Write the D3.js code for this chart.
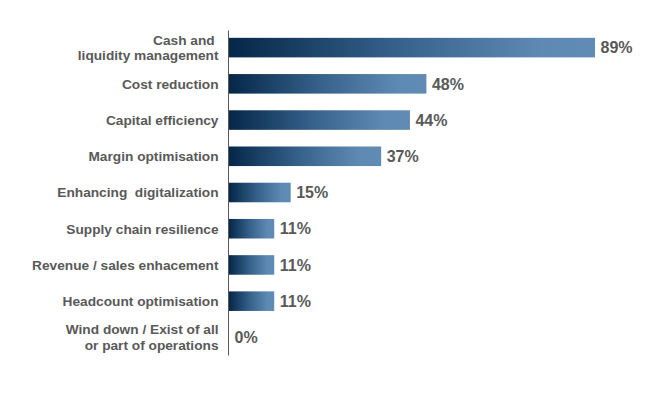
<!DOCTYPE html>
<html>
<head>
<meta charset="utf-8">
<script src="https://cdn.jsdelivr.net/npm/d3@7"></script>
<style>
html,body{margin:0;padding:0;background:#fff;}
svg{display:block;}
text{font-family:"Liberation Sans",Arial,sans-serif;font-weight:bold;fill:#595959;white-space:pre;}
</style>
</head>
<body>
<svg id="chart" width="661" height="398"></svg>
<script>
const categories = [
  ["Cash and ", "liquidity management"],
  ["Cost reduction"],
  ["Capital efficiency"],
  ["Margin optimisation"],
  ["Enhancing  digitalization"],
  ["Supply chain resilience"],
  ["Revenue / sales enhacement"],
  ["Headcount optimisation"],
  ["Wind down / Exist of all", "or part of operations"]
];
const values = [89, 48, 44, 37, 15, 11, 11, 11, 0];
const valueLabels = ["89%", "48%", "44%", "37%", "15%", "11%", "11%", "11%", "0%"];

const svg = d3.select("#chart");
const x0 = 229;
const x = d3.scaleLinear().domain([0, 89]).range([x0, 595]);
const y = d3.scaleBand().domain(d3.range(values.length)).range([29.5, 355.5]).paddingInner(0.46).paddingOuter(0.23);

const defs = svg.append("defs");
const grad = defs.append("linearGradient").attr("id", "barGrad")
  .attr("x1", "0%").attr("x2", "100%").attr("y1", "0%").attr("y2", "0%");
grad.append("stop").attr("offset", "0%").attr("stop-color", "#052748");
grad.append("stop").attr("offset", "45%").attr("stop-color", "#35608a");
grad.append("stop").attr("offset", "85%").attr("stop-color", "#5d89b3");
grad.append("stop").attr("offset", "100%").attr("stop-color", "#5f8bb5");

const rows = svg.append("g").selectAll("g").data(values).join("g");

rows.filter(d => d > 0).append("rect")
  .attr("x", x(0))
  .attr("y", (d, i) => y(i))
  .attr("width", d => x(d) - x(0))
  .attr("height", y.bandwidth())
  .attr("fill", "url(#barGrad)");

rows.append("text")
  .attr("x", d => x(d) + 5.5)
  .attr("y", (d, i) => y(i) + y.bandwidth() / 2)
  .attr("dy", "0.36em")
  .attr("font-size", "16px")
  .text((d, i) => valueLabels[i]);

// category labels
const lab = svg.append("g").selectAll("text").data(categories).join("text")
  .attr("text-anchor", "end")
  .attr("font-size", "13.7px")
  .attr("y", (d, i) => y(i) + y.bandwidth() / 2);
lab.each(function(d) {
  const t = d3.select(this);
  const n = d.length;
  d.forEach((line, k) => {
    t.append("tspan")
      .attr("x", 218.5)
      .attr("dy", k === 0 ? (0.36 - (n - 1) * 0.58) + "em" : "1.16em")
      .text(line);
  });
});

// vertical axis line
svg.append("line")
  .attr("x1", x0 - 0.5).attr("x2", x0 - 0.5)
  .attr("y1", y.range()[0] + 1).attr("y2", y.range()[1])
  .attr("stroke", "#595959").attr("stroke-width", 1);
</script>
</body>
</html>
